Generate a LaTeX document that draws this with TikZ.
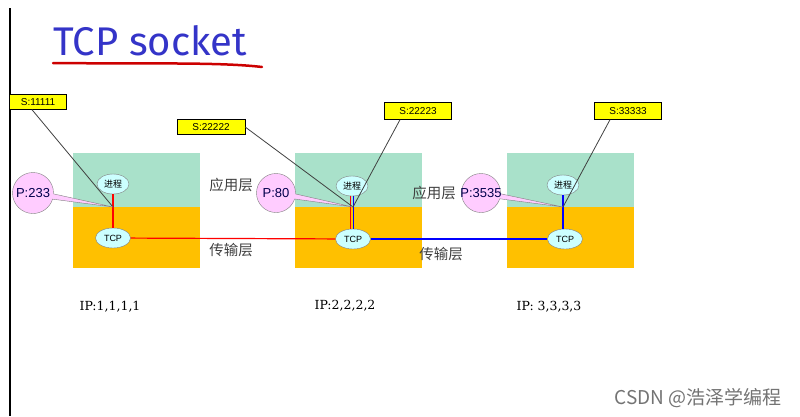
\documentclass[tikz,border=0pt]{standalone}
\usepackage{fontspec}
\setmainfont{DejaVu Serif}
\setsansfont{Liberation Sans}
\newfontfamily\cjk{Noto Sans CJK SC}
\newfontfamily\titlefont{Fira Sans}
\usepackage{xcolor}
\definecolor{AppGreen}{HTML}{A9E1CA}
\definecolor{TransOrange}{HTML}{FFC000}
\definecolor{ProcCyan}{HTML}{CCFFFF}
\definecolor{PortPink}{HTML}{FFCCFF}
\definecolor{SockYellow}{HTML}{FFFF00}
\definecolor{TitleBlue}{HTML}{3434C8}
\definecolor{LayerGray}{HTML}{404040}
\definecolor{LinkBlue}{HTML}{0000FF}
\definecolor{LinkRed}{HTML}{FF0000}
\usepackage{tikz}
\usetikzlibrary{positioning,shapes.geometric,shapes.callouts}

\begin{document}
\begin{tikzpicture}[x=1pt, y=-1pt, node distance=0.8cm,
  every node/.style={inner sep=1pt, align=center},
  proc/.style={ellipse, draw=gray, fill=ProcCyan, minimum width=32pt, minimum height=20pt, inner sep=0pt},
  sock/.style={draw, fill=SockYellow, font=\sffamily\fontsize{10}{10}\selectfont, minimum height=15pt, inner sep=0pt},
  port/.style={ellipse callout, draw=gray, fill=PortPink, minimum size=39pt, inner sep=0pt},
  portlabel/.style={font=\sffamily\fontsize{13}{13}\selectfont, text=black!70!blue},
  layer/.style={font=\cjk\fontsize{14.5}{14.5}\selectfont, text=LayerGray},
  link/.style={line width=1.2pt}]
  \useasboundingbox (0,0) rectangle (800,416);
  \draw[line width=1.2pt] (10,8) -- (10,416);

  % title
  \node[text=TitleBlue, font=\titlefont\fontsize{40}{40}\selectfont] (title) at (150,41) {TCP socket};
  \draw[red!80!black, line width=2.5pt, line cap=round] (53,63) .. controls (150,64) and (220,62) .. (262,67);

  % hosts
  \foreach \x in {73,295,507} {
    \fill[AppGreen] (\x,153) rectangle +(127,54);
    \fill[TransOrange] (\x,207) rectangle +(127,61);
  }

  % processes and TCP
  \node[proc, font=\cjk\fontsize{9}{9}\selectfont] (proc1) at (113,184) {进程};
  \node[proc, font=\cjk\fontsize{9}{9}\selectfont] (proc2) at (352,186) {进程};
  \node[proc, font=\cjk\fontsize{9}{9}\selectfont] (proc3) at (563,185) {进程};
  \node[proc, minimum width=35pt, font=\sffamily\fontsize{9}{9}\selectfont] (tcp1) at (113,238) {TCP};
  \node[proc, minimum width=35pt, font=\sffamily\fontsize{9}{9}\selectfont] (tcp2) at (353,239) {TCP};
  \node[proc, minimum width=35pt, font=\sffamily\fontsize{9}{9}\selectfont] (tcp3) at (565,239) {TCP};
  \coordinate (j1) at (113,207);
  \coordinate (j2) at (353,207);
  \coordinate (j3) at (563,207);

  \draw[link, LinkRed] (proc1) -- (tcp1);
  \draw[link, LinkRed] ([xshift=-1.2pt]proc2.south) -- ([xshift=-1.2pt]proc2.south |- tcp2.north);
  \draw[link, LinkBlue] ([xshift=1.6pt]proc2.south) -- ([xshift=1.6pt]proc2.south |- tcp2.north);
  \draw[link, LinkBlue] (proc3) -- (proc3 |- tcp3.north);
  \draw[link, LinkRed] (tcp1) -- (tcp2);
  \draw[link, LinkBlue] (tcp2) -- (tcp3);

  % sockets
  \node[sock, minimum width=57pt] (s1) at (38,102) {S:11111};
  \node[sock, minimum width=68pt] (s2) at (211,127) {S:22222};
  \node[sock, minimum width=67pt, minimum height=17pt] (s3) at (418,111) {S:22223};
  \node[sock, minimum width=67pt, minimum height=17pt] (s4) at (628,111) {S:33333};
  \draw[black!75, line width=0.8pt] ([xshift=-6pt]s1.south) -- (j1);
  \draw[black!75, line width=0.8pt] (s2.east) -- (j2);
  \draw[black!75, line width=0.8pt] ([xshift=-18pt]s3.south) -- (j2);
  \draw[black!75, line width=0.8pt] ([xshift=-18pt]s4.south) -- (j3);

  % ports
  \node[port, minimum size=41pt, callout absolute pointer={(j1)},
    label={[portlabel]center:P:233}] (p1) at (33,193) {};
  \node[port, callout absolute pointer={(j2)},
    label={[portlabel]center:P:80}] (p2) at (276,193) {};
  \node[port, callout absolute pointer={(j3)},
    label={[portlabel]center:P:3535}] (p3) at (481,193) {};

  % layers
  \node[layer] (app1) at (231,185) {应用层};
  \node[layer] (trans1) at (231,250) {传输层};
  \node[layer] (app2) at (434,193) {应用层};
  \node[layer] (trans2) at (441,254) {传输层};

  % addresses
  \node[font=\fontsize{12.5}{12.5}\selectfont] (ip1) at (110,307) {IP:1,1,1,1};
  \node[font=\fontsize{12.5}{12.5}\selectfont] (ip2) at (345,306) {IP:2,2,2,2};
  \node[font=\fontsize{12.5}{12.5}\selectfont] (ip3) at (549,307) {IP: 3,3,3,3};

  \node[font=\cjk\fontsize{19}{19}\selectfont, text=black!55] (mark) at (698,398) {CSDN @浩泽学编程};
\end{tikzpicture}
\end{document}
